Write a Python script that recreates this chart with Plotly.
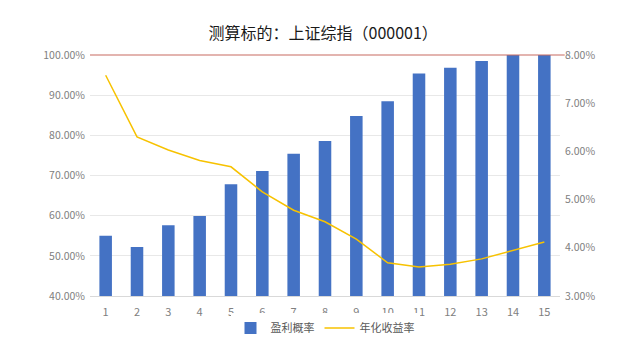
import plotly.graph_objects as go

categories = [str(i) for i in range(1, 16)]
win_prob = [55.0, 52.2, 57.6, 59.9, 67.8, 71.1, 75.4, 78.6, 84.8, 88.5, 95.4, 96.8, 98.5, 100.0, 100.0]
annual_ret = [7.58, 6.30, 6.03, 5.81, 5.68, 5.16, 4.78, 4.54, 4.18, 3.69, 3.60, 3.66, 3.77, 3.95, 4.12]
left_ticks = [40, 50, 60, 70, 80, 90, 100]
right_ticks = [3, 4, 5, 6, 7, 8]

font_fam = "Noto Sans CJK SC, Noto Sans, sans-serif"
tick_color = "#808080"

fig = go.Figure()
fig.add_trace(go.Bar(x=categories, y=win_prob, name="盈利概率",
                     marker=dict(color="#4472C4", line=dict(width=0)), width=0.4, yaxis="y"))
fig.add_trace(go.Scatter(x=categories, y=annual_ret, name="年化收益率", mode="lines",
                         line=dict(color="#F7C200", width=1.5), yaxis="y2"))

fig.update_layout(
    width=640, height=360,
    margin=dict(l=90, r=80, t=55, b=64, autoexpand=False),
    paper_bgcolor="white", plot_bgcolor="white",
    font=dict(family=font_fam, color=tick_color, size=10.5),
    title=dict(text="测算标的：上证综指（000001）", x=0.505, xanchor="center",
               yref="container", y=0.908, yanchor="middle",
               font=dict(family=font_fam, size=16, color="#1a1a1a")),
    showlegend=True,
    legend=dict(orientation="h", x=0.5, xanchor="center", yref="container", y=0.089, yanchor="middle",
                font=dict(size=11, color="#595959"), itemwidth=30, tracegroupgap=0),
    xaxis=dict(showgrid=False, showline=True, linecolor="#d9d9d9", ticks="",
               tickfont=dict(size=11, color=tick_color), ticklabelstandoff=6),
    yaxis=dict(range=[40, 100], tickvals=left_ticks, ticktext=[f"{v:.2f}%" for v in left_ticks],
               showgrid=True, gridcolor="#e8e8e8", zeroline=False, showline=False,
               tickfont=dict(size=10.5, color=tick_color), ticks="", ticklabelstandoff=4),
    yaxis2=dict(range=[3, 8], tickvals=right_ticks, ticktext=[f"{v:.2f}%" for v in right_ticks],
                overlaying="y", side="right", showgrid=False, zeroline=False, showline=False,
                tickfont=dict(size=10.5, color=tick_color), ticks="", ticklabelstandoff=4),
    bargap=0.6,
)
fig.add_shape(type="line", xref="paper", yref="paper", x0=0, x1=1.01, y0=1, y1=1,
              layer="above", line=dict(color="#C86A60", width=1.2))

fig.write_html("out.html", config={"displayModeBar": False},
               post_script="document.body.style.margin='0';")
